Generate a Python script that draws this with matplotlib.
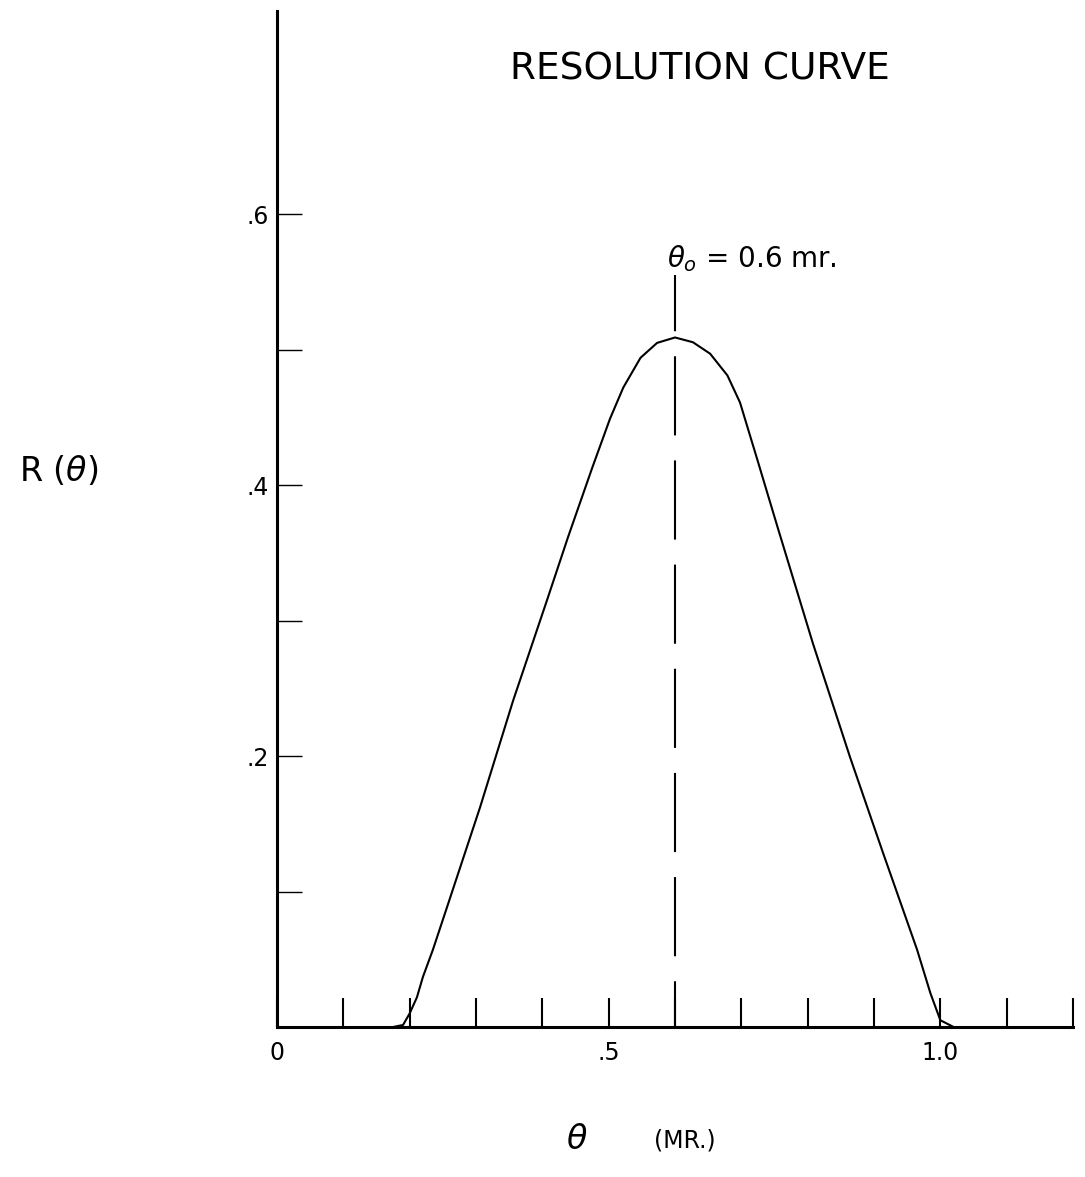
#!/usr/bin/env python3
# -*- coding: utf-8 -*-
"""Resolution curve R(theta) with the theta_o = 0.6 mr marker."""

import matplotlib
matplotlib.use("Agg")
import matplotlib.pyplot as plt

# curve read point by point (theta in mr, R dimensionless)
theta = [0.175, 0.190, 0.200, 0.211, 0.220, 0.235, 0.256, 0.306, 0.356,
         0.407, 0.439, 0.475, 0.502, 0.522, 0.548, 0.573, 0.600, 0.627,
         0.653, 0.679, 0.698, 0.724, 0.754, 0.808, 0.864, 0.914, 0.965,
         0.985, 1.000, 1.020]
R = [0.000, 0.0015, 0.010, 0.022, 0.037, 0.057, 0.088, 0.162, 0.241,
     0.315, 0.362, 0.4125, 0.449, 0.472, 0.494, 0.505, 0.509, 0.5055,
     0.497, 0.481, 0.461, 0.419, 0.370, 0.283, 0.199, 0.128, 0.057,
     0.025, 0.005, 0.000]

theta_o = 0.6
marker_top = 0.555

x_major = [0.0, 0.5, 1.0]
x_major_labels = ["0", ".5", "1.0"]
x_minor = [0.1, 0.2, 0.3, 0.4, 0.6, 0.7, 0.8, 0.9, 1.1, 1.2]
y_major = [0.2, 0.4, 0.6]
y_major_labels = [".2", ".4", ".6"]
y_minor = [0.1, 0.3, 0.5]


def main() -> None:
    fig = plt.figure(figsize=(10.85, 11.77), dpi=100)
    ax = fig.add_axes([277 / 1085, 150 / 1177, 796 / 1085, 1016 / 1177])
    ax.set_xlim(0, 1.2)
    ax.set_ylim(0, 0.75)

    for side in ("top", "right"):
        ax.spines[side].set_visible(False)
    for side in ("left", "bottom"):
        ax.spines[side].set_linewidth(2.2)
        ax.spines[side].set_color("black")

    ax.plot(theta, R, color="black", lw=1.5, solid_joinstyle="round",
            solid_capstyle="round")
    ax.plot([theta_o, theta_o], [marker_top, 0], color="black", lw=1.5,
            linestyle=(11, (38, 12)))

    ax.set_xticks(x_major, x_major_labels, fontsize=17)
    ax.set_xticks(x_minor, minor=True)
    ax.set_yticks(y_major, y_major_labels, fontsize=17)
    ax.set_yticks(y_minor, minor=True)
    ax.tick_params(axis="x", which="both", direction="in", length=21, width=1.5, pad=10)
    ax.tick_params(axis="y", which="both", direction="in", length=18, width=1.0, pad=6)

    ax.text(0.588, 0.567, r"$\theta_o$ = 0.6 mr.", fontsize=20,
            ha="left", va="center")

    fig.text(0.645, 0.941, "RESOLUTION CURVE", fontsize=27, ha="center",
             va="center")
    fig.text(0.054, 0.600, r"R ($\theta$)", fontsize=24, ha="center", va="center")
    fig.text(0.532, 0.032, r"$\theta$", fontsize=24, ha="center", va="center")
    fig.text(0.631, 0.031, "(MR.)", fontsize=17, ha="center", va="center")

    fig.savefig("out.png", dpi=100)
    plt.close(fig)


if __name__ == "__main__":
    main()
